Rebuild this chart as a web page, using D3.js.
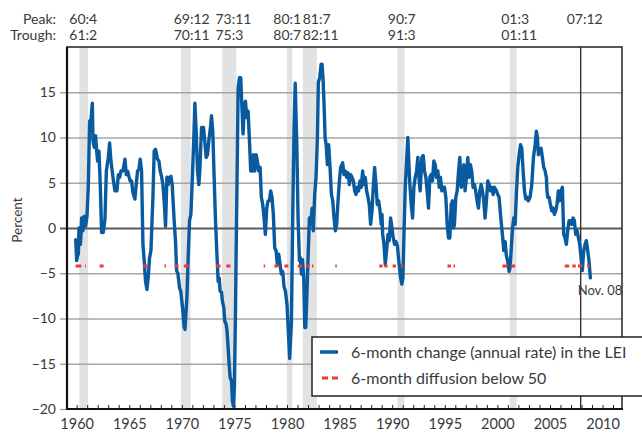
<!DOCTYPE html>
<html><head><meta charset="utf-8">
<script src="https://cdn.jsdelivr.net/npm/d3@7"></script>
<style>
html,body{margin:0;padding:0;background:#fff;}
svg{display:block;font-family:Lato,"Open Sans",sans-serif;}
</style></head>
<body><div id="chart"></div>
<script>
// ---- Data ----
const leiDates = [1959.91,1960.00,1960.10,1960.16,1960.22,1960.30,1960.35,1960.42,1960.47,1960.55,1960.60,1960.70,1960.85,1960.98,
1961.11,1961.23,1961.36,1961.49,1961.55,1961.68,1961.80,1961.90,1961.99,1962.12,1962.25,1962.37,1962.53,1962.69,1962.82,
1963.01,1963.13,1963.26,1963.45,1963.64,1963.83,1963.96,1964.08,1964.21,1964.40,1964.59,1964.72,1964.84,1964.97,1965.09,
1965.22,1965.35,1965.54,1965.66,1965.79,1965.92,1966.04,1966.17,1966.30,1966.42,1966.55,1966.68,1966.80,1966.93,1967.06,
1967.25,1967.37,1967.50,1967.69,1967.82,1967.94,1968.07,1968.20,1968.32,1968.45,1968.58,1968.70,1968.83,1968.96,1969.08,
1969.27,1969.40,1969.50,1969.62,1969.78,1969.90,1970.10,1970.22,1970.30,1970.48,1970.60,1970.73,1970.86,1971.00,1971.14,
1971.24,1971.36,1971.49,1971.62,1971.71,1971.87,1972.06,1972.18,1972.31,1972.44,1972.56,1972.72,1972.82,1972.94,1973.07,
1973.20,1973.32,1973.45,1973.55,1973.64,1973.77,1973.86,1973.99,1974.08,1974.21,1974.30,1974.40,1974.50,1974.59,1974.72,
1974.81,1974.91,1975.00,1975.10,1975.19,1975.29,1975.35,1975.48,1975.60,1975.70,1975.82,1975.95,1976.05,1976.17,1976.30,
1976.43,1976.55,1976.68,1976.81,1976.93,1977.06,1977.18,1977.31,1977.44,1977.56,1977.69,1977.82,1977.94,1978.07,1978.20,
1978.32,1978.45,1978.57,1978.70,1978.83,1978.96,1979.08,1979.21,1979.34,1979.46,1979.59,1979.72,1979.85,1980.00,1980.13,
1980.25,1980.42,1980.55,1980.67,1980.78,1980.93,1981.05,1981.18,1981.27,1981.37,1981.47,1981.59,1981.69,1981.78,1981.87,
1982.00,1982.13,1982.25,1982.38,1982.50,1982.63,1982.76,1982.89,1982.98,1983.11,1983.24,1983.33,1983.42,1983.52,1983.62,
1983.72,1983.84,1983.96,1984.09,1984.22,1984.35,1984.47,1984.60,1984.72,1984.85,1984.98,1985.10,1985.29,1985.42,1985.55,
1985.67,1985.80,1985.93,1986.05,1986.18,1986.31,1986.43,1986.56,1986.68,1986.81,1986.94,1987.06,1987.19,1987.32,1987.44,
1987.57,1987.70,1987.82,1987.95,1988.08,1988.20,1988.33,1988.46,1988.58,1988.71,1988.84,1988.96,1989.03,1989.09,1989.22,
1989.34,1989.47,1989.60,1989.72,1989.85,1989.98,1990.10,1990.23,1990.35,1990.50,1990.60,1990.70,1990.80,1990.92,1991.02,
1991.11,1991.24,1991.40,1991.49,1991.59,1991.68,1991.81,1991.94,1992.06,1992.19,1992.32,1992.44,1992.54,1992.66,1992.76,
1992.82,1992.95,1993.07,1993.20,1993.32,1993.45,1993.58,1993.71,1993.83,1993.96,1994.09,1994.21,1994.34,1994.47,1994.59,
1994.72,1994.85,1994.97,1995.10,1995.23,1995.35,1995.48,1995.61,1995.73,1995.83,1995.92,1996.05,1996.18,1996.31,1996.43,
1996.56,1996.68,1996.81,1996.93,1997.06,1997.19,1997.31,1997.44,1997.56,1997.69,1997.82,1997.94,1998.07,1998.20,1998.33,
1998.46,1998.58,1998.71,1998.83,1998.96,1999.09,1999.22,1999.34,1999.47,1999.60,1999.72,1999.91,2000.04,2000.16,2000.35,
2000.48,2000.61,2000.74,2000.85,2000.97,2001.05,2001.12,2001.20,2001.31,2001.44,2001.56,2001.69,2001.82,2001.94,2002.07,
2002.20,2002.32,2002.45,2002.58,2002.70,2002.83,2002.95,2003.11,2003.27,2003.43,2003.59,2003.71,2003.81,2003.90,2004.03,
2004.16,2004.28,2004.41,2004.54,2004.66,2004.72,2004.79,2004.92,2005.04,2005.17,2005.29,2005.42,2005.55,2005.67,2005.80,
2005.93,2006.05,2006.18,2006.31,2006.43,2006.56,2006.69,2006.82,2006.94,2007.07,2007.20,2007.32,2007.45,2007.58,2007.71,
2007.83,2007.96,2008.08,2008.21,2008.34,2008.46,2008.59,2008.71,2008.84];
const leiValues = [-1.3,-3.6,-3.0,-2.9,0.0,-1.0,-1.8,-0.5,1.1,0.2,-0.3,1.3,0.2,1.3,
4.8,11.8,12.0,13.8,9.6,8.9,10.2,8.5,7.4,8.5,4.5,-0.5,-0.5,1.0,6.3,
7.8,9.4,7.4,5.6,4.1,4.1,5.9,5.6,6.3,6.3,7.6,5.9,6.3,5.7,5.2,
5.2,3.9,3.2,4.8,6.3,6.5,7.6,6.3,-1.8,-3.6,-5.9,-6.8,-5.5,-3.3,-2.5,
3.4,8.5,8.7,7.6,7.4,6.3,5.7,4.8,3.0,0.2,5.6,4.8,5.6,5.7,4.8,
0.8,-1.5,-4.7,-5.0,-6.6,-7.0,-9.2,-11.0,-11.2,-7.7,-3.3,0.8,1.5,5.6,10.0,
13.8,10.7,6.3,4.8,6.3,11.1,11.1,9.6,7.8,8.1,9.6,11.1,12.4,10.7,5.6,
0.8,-2.5,-5.9,-5.5,-7.0,-7.1,-8.1,-8.8,-10.3,-10.6,-11.4,-13.2,-15.1,-16.5,-16.9,
-19.1,-19.7,-17.3,-9.2,0.0,9.2,15.5,16.6,16.6,13.7,10.4,13.7,14.0,12.2,12.9,
9.6,6.3,6.3,8.1,6.3,8.1,7.4,6.3,6.7,3.4,2.6,1.1,-0.7,2.2,3.0,
3.0,4.1,3.4,1.5,-2.2,-2.5,-4.0,-2.9,-4.0,-5.1,-4.8,-6.5,-7.0,-8.5,-11.5,
-14.4,-10.3,1.9,11.1,16.0,9.2,1.1,-3.6,-3.3,-5.1,-3.5,-5.5,-11.0,-11.0,-8.1,
-3.3,1.1,0.4,2.2,-0.3,3.7,5.6,10.0,16.1,16.6,18.1,18.1,16.6,13.7,10.0,
9.2,7.0,9.2,6.7,3.7,3.0,1.1,-0.3,0.4,3.0,5.2,6.7,7.2,5.9,6.3,
5.6,6.1,4.8,5.9,5.6,5.2,4.1,3.7,4.5,4.1,5.2,4.5,6.3,4.8,5.6,
4.1,3.4,2.6,0.4,1.9,4.5,6.7,4.8,2.6,3.0,1.9,0.4,1.5,-0.7,-1.8,
-4.0,-2.5,-0.7,-1.4,1.1,0.0,-1.1,-1.8,-1.5,-2.0,-3.3,-4.4,-5.5,-6.2,-5.5,
-1.1,4.5,8.1,10.0,7.0,4.8,2.6,1.1,4.5,5.6,6.3,7.8,5.6,4.1,6.3,
7.8,8.0,6.3,5.6,4.1,2.2,5.6,5.9,5.2,7.4,7.0,5.6,6.3,4.5,5.6,
4.1,4.5,4.5,3.4,0.4,-1.1,-1.1,2.6,3.0,0.0,0.4,3.4,4.1,6.3,7.8,
4.5,4.8,7.0,4.1,5.6,7.8,5.6,7.0,6.3,4.5,4.8,4.1,3.0,2.2,4.1,
4.8,4.1,3.0,1.1,3.0,5.2,4.8,4.1,4.5,3.7,4.5,4.1,3.7,3.4,0.8,
-0.7,-2.5,-1.5,-3.0,-3.6,-4.2,-4.8,-4.4,-2.5,0.0,1.1,0.4,4.1,6.7,8.1,
9.2,8.8,6.3,4.1,3.2,3.4,3.0,3.4,4.8,7.8,9.2,10.7,10.0,8.1,8.5,
8.8,7.8,6.7,6.3,5.6,4.1,3.4,3.4,2.6,1.9,2.2,1.5,1.9,2.6,4.1,
3.0,4.1,4.5,-0.7,-1.1,-1.8,-0.3,0.8,0.8,0.4,1.1,0.8,-0.7,-0.3,-1.1,
-1.8,-3.3,-4.7,-2.5,-1.8,-1.4,-2.5,-3.6,-5.5];

// Diffusion below 50 periods (drawn at the -4.2 level)
const diffStart = [1959.90,1960.79,1962.18,1966.30,1968.35,1969.31,1970.19,1973.27,1974.22,1977.78,1978.80,1979.75,1981.02,1981.81,1982.37,1984.59,1988.77,1989.25,1990.04,1990.84,1995.26,1995.83,2000.48,2001.28,2006.41,2007.13,2007.67,2008.54];
const diffEnd   = [1960.45,1960.87,1962.56,1966.71,1968.49,1969.69,1970.64,1973.68,1974.63,1977.92,1979.18,1980.13,1981.43,1982.13,1982.51,1984.73,1989.09,1989.56,1990.36,1991.05,1995.58,1995.97,2000.96,2001.69,2006.82,2007.45,2008.08,2008.77];
const diffLevel = -4.2;

// Recessions (peak, trough)
const peakLabels   = ["60:4","69:12","73:11","80:1","81:7","90:7","01:3","07:12"];
const troughLabels = ["61:2","70:11","75:3","80:7","82:11","91:3","01:11",""];
const peakDates   = [1960.25,1969.92,1973.83,1980.00,1981.50,1990.50,2001.17];
const troughDates = [1961.08,1970.83,1975.17,1980.50,1982.83,1991.17,2001.83];
const labelAt = [1959.30,1969.22,1973.19,1978.70,1981.49,1989.58,2000.36,2006.59];
const lastPeak = 2007.92;

const yTicks = [-20,-15,-10,-5,0,5,10,15];
const xLabelYears = [1960,1965,1970,1975,1980,1985,1990,1995,2000,2005,2010];
const legendLabels = ["6-month change (annual rate) in the LEI","6-month diffusion below 50"];
const endLabel = "Nov. 08";

// ---- Chart ----
const W = 642, H = 433;
const L = 67, R = 622, T = 47, B = 409;
const blue = "#0a5aa0", red = "#ee3b2d", txt = "#3a3a3a";

const x = d3.scaleLinear().domain([1959.08, 2011.85]).range([L, R]);
const y = d3.scaleLinear().domain([-20, 20]).range([B, T]);

const svg = d3.select("#chart").append("svg").attr("width", W).attr("height", H);

// recession shading
svg.append("g").selectAll("rect").data(peakDates).join("rect")
  .attr("x", (d) => x(d)).attr("y", T)
  .attr("width", (d, i) => x(troughDates[i]) - x(d)).attr("height", B - T)
  .attr("fill", "#e1e2e4");

// y gridlines + tick marks
const yAxis = d3.axisLeft(y).tickValues(yTicks).tickSize(-(R - L) - 7).tickPadding(4).tickFormat(d3.format("d"));
const gy = svg.append("g").attr("transform", `translate(${L - 7},0)`).call(yAxis);
gy.select(".domain").remove();
gy.selectAll(".tick line").attr("stroke", (d) => d === 0 ? "#5a5a5a" : "#a6a6a6")
  .attr("stroke-width", (d) => d === 0 ? 2 : 1.4);
gy.selectAll(".tick text").attr("fill", txt).attr("font-size", 14).attr("font-family", "Lato, sans-serif");
gy.selectAll(".tick").filter((d) => d === -20).select("line").attr("x2", 7);

// vertical line at last peak
svg.append("line").attr("x1", x(lastPeak)).attr("x2", x(lastPeak)).attr("y1", T).attr("y2", B)
  .attr("stroke", "#333").attr("stroke-width", 1.4);

// LEI line
const line = d3.line().x((d, i) => x(leiDates[i])).y((d) => y(d));
svg.append("path").datum(leiValues).attr("d", line)
  .attr("fill", "none").attr("stroke", blue).attr("stroke-width", 3.4)
  .attr("stroke-linejoin", "round").attr("stroke-linecap", "round");

// diffusion marks
svg.append("g").selectAll("line").data(diffStart).join("line")
  .attr("x1", (d) => x(d)).attr("x2", (d, i) => x(diffEnd[i]))
  .attr("y1", y(diffLevel)).attr("y2", y(diffLevel))
  .attr("stroke", red).attr("stroke-width", 3);

// Frame
svg.append("rect").attr("x", L).attr("y", T).attr("width", R - L).attr("height", B - T)
  .attr("fill", "none").attr("stroke", "#222").attr("stroke-width", 1.5);
svg.append("line").attr("x1", L).attr("x2", L).attr("y1", T).attr("y2", B + 1).attr("stroke", "#111").attr("stroke-width", 2.2);
svg.append("line").attr("x1", L).attr("x2", R + 1).attr("y1", B).attr("y2", B).attr("stroke", "#111").attr("stroke-width", 2.2);

// x axis: yearly ticks inward
const xAxis = d3.axisBottom(x).tickValues(d3.range(1960, 2012)).tickSize(-4).tickPadding(10)
  .tickFormat((d) => xLabelYears.includes(d) ? String(d) : "");
const gx = svg.append("g").attr("transform", `translate(0,${B})`).call(xAxis);
gx.select(".domain").remove();
gx.selectAll(".tick line").attr("stroke", "#222").attr("stroke-width", 1);
gx.selectAll(".tick text").attr("fill", txt).attr("font-size", 14.5).attr("font-family", "Lato, sans-serif");

// Percent label
svg.append("text").attr("transform", `translate(22,220) rotate(-90)`).attr("text-anchor", "middle")
  .attr("fill", txt).attr("font-size", 13.5).text("Percent");

// header labels
svg.append("text").attr("x", 56).attr("y", 24).attr("text-anchor", "end").attr("fill", txt).attr("font-size", 14).text("Peak:");
svg.append("text").attr("x", 56).attr("y", 40).attr("text-anchor", "end").attr("fill", txt).attr("font-size", 14).text("Trough:");
svg.append("g").selectAll("text").data(peakLabels).join("text")
  .attr("x", (d, i) => x(labelAt[i])).attr("y", 24).attr("fill", txt).attr("font-size", 14).text((d) => d);
svg.append("g").selectAll("text").data(troughLabels).join("text")
  .attr("x", (d, i) => x(labelAt[i])).attr("y", 40).attr("fill", txt).attr("font-size", 14).text((d) => d);

// end label
svg.append("text").attr("x", x(lastPeak) - 3).attr("y", 295)
  .attr("fill", txt).attr("font-size", 13).text(endLabel);

// Legend
const lg = svg.append("g");
lg.append("rect").attr("x", 312).attr("y", 337).attr("width", 340).attr("height", 59)
  .attr("fill", "#fff").attr("stroke", "#222").attr("stroke-width", 1.5);
lg.append("line").attr("x1", 320).attr("x2", 338).attr("y1", 352).attr("y2", 352)
  .attr("stroke", blue).attr("stroke-width", 3.5);
lg.append("line").attr("x1", 322).attr("x2", 338).attr("y1", 378).attr("y2", 378)
  .attr("stroke", red).attr("stroke-width", 3).attr("stroke-dasharray", "6,4");
lg.selectAll("text").data(legendLabels).join("text")
  .attr("x", 351).attr("y", (d, i) => 357.5 + i * 26).attr("fill", txt).attr("font-size", 16).text((d) => d);
</script></body></html>
